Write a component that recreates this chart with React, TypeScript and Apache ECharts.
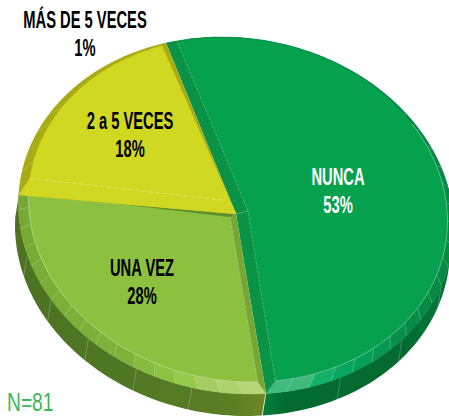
import React, { useEffect, useRef } from "react";
import * as echarts from "echarts";

const categories = ["NUNCA", "UNA VEZ", "2 a 5 VECES", "MÁS DE 5 VECES"];
const shares = [53, 28, 18, 1];
const sampleNote = "N=81";

// geometry of the tilted pie
const START = -15;
const OUTER = { cx: 236, cy: 215.5, rx: 217, ry: 178.5 };
const INNER = { cx: 238, cy: 210, rx: 209, ry: 172 };
const SHEAR = 0.08;
const DEPTH = { x: -3.5, y: 22 };
const APEX: [number, number] = [236, 214];
const FONT = "'Liberation Sans', Arimo, sans-serif";
const NARROW = 0.64;

const looks = [
  {
    face: "#05a14f", bevel: "#0a9347", side: ["#00803a", "#036b30", "#036b30", "#067a3a"], sideFrom: 75,
    sideStops: [0, 0.12, 0.75, 1],
    vertex: [12, -3], trimA: 2, trimB: -2.3, step: 6.4, sideStep: 21, sideTicksFrom: 113, text: "#ffffff",
    label: [338, 177], rimLine: 60, edgeLine: true,
    rim: [[-15, "#0a9347"], [30, "#0a8543"], [130, "#078a45"], [150, "#06a05a"], [160, "#0aae66"], [166, "#3fb97c"], [176, "#45bb80"]],
  },
  {
    face: "#8cc03e", bevel: "#76a735", side: ["#4d7322", "#4f7623", "#5a7f25", "#6f8725"], sideFrom: 176,
    sideStops: [0, 0.4, 0.88, 1],
    vertex: [-6, 3], trimA: 2.6, trimB: -1, step: 6, sideStep: 15.5, sideTicksFrom: 195.5, text: "#000000",
    label: [142, 268], rimLine: 176, edgeLine: true,
    rim: [[176, "#b8d87e"], [190, "#a6cf64"], [200, "#8fc740"], [215, "#80b23a"], [277, "#75a735"]],
  },
  {
    face: "#d0d821", bevel: "#a8ac14", side: null, sideFrom: 0, sideStops: [],
    vertex: [0, 0], trimA: 4, trimB: 0, step: 7, sideStep: 0, sideTicksFrom: 0, text: "#000000",
    label: [130, 121], rimLine: 0, edgeLine: false,
    rim: [[276, "#a8ac14"], [342, "#a8ac14"]],
  },
  {
    face: "#d0d821", bevel: "#a8ac14", side: null, sideFrom: 0, sideStops: [],
    vertex: [0, 0], trimA: -3, trimB: -2.5, step: 4, sideStep: 0, sideTicksFrom: 0, text: "#000000",
    label: [85, 20], rimLine: 0, edgeLine: false,
    rim: [[341, "#a8ac14"], [346, "#a8ac14"]],
  },
];

const rad = (d: number) => (d * Math.PI) / 180;
function pt(e: typeof OUTER, deg: number, dx = 0, dy = 0): [number, number] {
  const s = Math.sin(rad(deg));
  const c = Math.cos(rad(deg));
  return [e.cx + e.rx * s - SHEAR * e.ry * c + dx, e.cy - e.ry * c + dy];
}
function arc(e: typeof OUTER, a: number, b: number, dx = 0, dy = 0) {
  const n = Math.max(2, Math.ceil(Math.abs(b - a) / 1.5));
  const out: [number, number][] = [];
  for (let i = 0; i <= n; i++) out.push(pt(e, a + ((b - a) * i) / n, dx, dy));
  return out;
}
function hex(c: string) {
  return [1, 3, 5].map((i) => parseInt(c.slice(i, i + 2), 16));
}
function rimColor(stops: any[], t: number) {
  if (t <= stops[0][0]) return stops[0][1];
  for (let i = 1; i < stops.length; i++) {
    if (t <= stops[i][0]) {
      const f = (t - stops[i - 1][0]) / (stops[i][0] - stops[i - 1][0]);
      const a = hex(stops[i - 1][1]);
      const b = hex(stops[i][1]);
      return `rgb(${a.map((v, k) => Math.round(v + (b[k] - v) * f)).join(",")})`;
    }
  }
  return stops[stops.length - 1][1];
}

function renderSlice(params: any, api: any) {
  const i = params.dataIndex;
  const look = looks[i];
  const before = shares.slice(0, i).reduce((a, b) => a + b, 0);
  const a = START + (before / 100) * 360;
  const b = a + (api.value(0) / 100) * 360;
  const ia = a + look.trimA;
  const ib = b + look.trimB;
  const toInner = (t: number) => ia + ((t - a) / (b - a)) * (ib - ia);
  const kids: any[] = [];

  // side wall
  if (look.side) {
    const from = Math.max(a, look.sideFrom);
    kids.push({
      type: "polygon",
      shape: { points: [...arc(OUTER, from, b), ...arc(OUTER, b, from, DEPTH.x, DEPTH.y)] },
      style: {
        fill: new echarts.graphic.LinearGradient(
          0, 0, 1, 0,
          look.side.map((c: string, k: number) => ({ offset: look.sideStops[k], color: c }))
        ),
      },
    });
    for (let t = look.sideTicksFrom; t < b - 10 && t >= a; t += look.sideStep) {
      const p = pt(OUTER, t);
      const q = pt(OUTER, t, DEPTH.x, DEPTH.y);
      kids.push({
        type: "line",
        shape: { x1: p[0], y1: p[1], x2: q[0], y2: q[1] },
        style: { stroke: "rgba(255,255,255,0.3)", lineWidth: 0.7 },
      });
    }
  }

  // whole wedge in the bevel colour
  kids.push({
    type: "polygon",
    shape: { points: [APEX, ...arc(OUTER, a, b)] },
    style: { fill: look.bevel },
  });

  // rim cells
  for (let t = a; t < b - 0.01; t += look.step) {
    const e = Math.min(b, t + look.step);
    const fill = rimColor(look.rim, (t + e) / 2);
    kids.push({
      type: "polygon",
      shape: { points: [...arc(OUTER, t, e), ...arc(INNER, toInner(e), toInner(t))] },
      style: { fill, stroke: fill, lineWidth: 0.4 },
    });
    if (t > a && look.step < 7 && i < 2 && (i === 1 || t > 50)) {
      kids.push({
        type: "polyline",
        shape: { points: [pt(OUTER, t), pt(INNER, toInner(t))] },
        style: { fill: "none", stroke: "rgba(255,255,255,0.32)", lineWidth: 0.7 },
      });
    }
    if (i === 2 && t < a + 30) {
      kids.push({
        type: "polyline",
        shape: { points: [pt(OUTER, t), pt(INNER, toInner(t))] },
        style: { fill: "none", stroke: "rgba(255,255,255,0.2)", lineWidth: 0.7 },
      });
    }
  }

  // top face
  const v: [number, number] = [APEX[0] + look.vertex[0], APEX[1] + look.vertex[1]];
  const innerArc = arc(INNER, ia, ib);
  const facePts = i === 2 ? [v, pt(OUTER, a), ...innerArc] : [v, ...innerArc];
  kids.push({
    type: "polygon",
    shape: { points: facePts },
    style: { fill: look.face, stroke: look.face, lineWidth: 0.4 },
  });

  if (look.edgeLine) {
    kids.push({
      type: "polyline",
      shape: { points: i === 0 ? [pt(INNER, ia), v, pt(INNER, ib)] : [v, pt(INNER, ia)] },
      style: { fill: "none", stroke: "rgba(255,255,255,0.35)", lineWidth: 0.7, lineDash: [3, 1.5] },
    });
    kids.push({
      type: "polyline",
      shape: { points: arc(INNER, Math.max(ia, look.rimLine), ib) },
      style: { fill: "none", stroke: "rgba(255,255,255,0.45)", lineWidth: 0.8 },
    });
    kids.push({
      type: "polyline",
      shape: { points: [APEX, v] },
      style: { fill: "none", stroke: "rgba(255,255,255,0.35)", lineWidth: 0.7 },
    });
  }
  if (i === 1) {
    kids.push({
      type: "polygon",
      shape: { points: [APEX, pt(OUTER, b), pt(INNER, ib), v] },
      style: { fill: "#5f8f2a" },
    });
  }
  if (i === 2) {
    kids.push({
      type: "polyline",
      shape: { points: [pt(INNER, ia), [APEX[0] - 13, APEX[1] - 14]] },
      style: { fill: "none", stroke: "rgba(255,255,255,0.4)", lineWidth: 0.8, lineDash: [5, 2] },
    });
  }

  // labels
  const common = {
    fontFamily: FONT, fontWeight: "bold", fontSize: 23, align: "center", verticalAlign: "middle", fill: look.text,
  };
  kids.push({ type: "text", x: look.label[0], y: look.label[1], scaleX: NARROW, style: { ...common, text: categories[i] } });
  kids.push({ type: "text", x: look.label[0], y: look.label[1] + 28, scaleX: NARROW, style: { ...common, text: `${shares[i]}%` } });

  return { type: "group", children: kids };
}

export default function App() {
  const ref = useRef<HTMLDivElement>(null);
  useEffect(() => {
    if (!ref.current) return;
    const chart = echarts.init(ref.current, undefined, { renderer: "svg" });
    chart.setOption({
      animation: false,
      backgroundColor: "#ffffff",
      series: [
        {
          type: "custom",
          coordinateSystem: "none",
          silent: true,
          clip: false,
          renderItem: renderSlice,
          data: shares.map((s) => [s]),
        },
      ],
      graphic: [
        {
          type: "text",
          x: 7,
          y: 402,
          scaleX: 0.74,
          style: { text: sampleNote, fontFamily: FONT, fontSize: 26, verticalAlign: "middle", fill: "#3fb55b" },
        },
      ],
    });
    return () => chart.dispose();
  }, []);
  return <div ref={ref} style={{ position: "absolute", left: 0, top: 0, width: 449, height: 417 }} />;
}
